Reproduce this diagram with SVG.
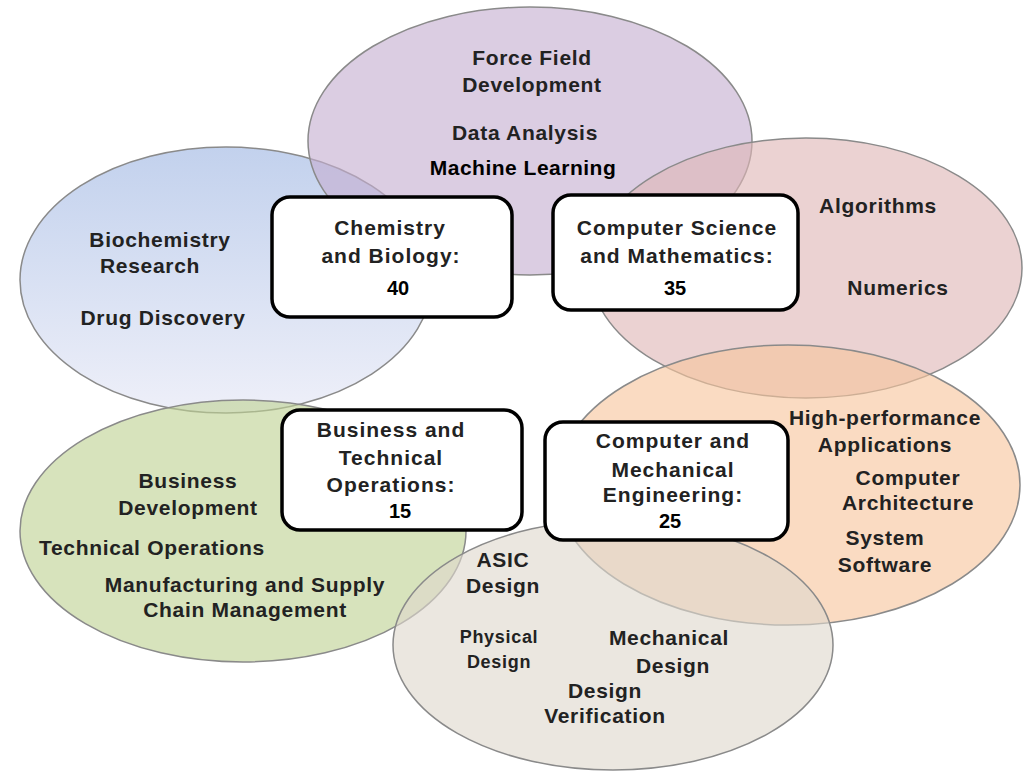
<svg xmlns="http://www.w3.org/2000/svg" width="1024" height="771" viewBox="0 0 1024 771">
<style>
.ell{stroke:#8a8a8a;stroke-width:1.5;fill-opacity:0.62}
.box{fill:#fff;stroke:#000;stroke-width:3.5}
.t{font-family:"Liberation Sans",Arial,sans-serif;font-weight:bold;font-size:21px;fill:#222;text-anchor:middle;letter-spacing:0.7px}
.b{font-family:"Liberation Sans",Arial,sans-serif;font-weight:bold;font-size:21px;fill:#222;text-anchor:middle;letter-spacing:1px}
.n{font-family:"Liberation Sans",Arial,sans-serif;font-weight:bold;font-size:20px;fill:#000;text-anchor:middle}
</style>
<defs>
<linearGradient id="gBlue" x1="0" y1="0" x2="0" y2="1">
<stop offset="0" stop-color="#9db5e2"/>
<stop offset="1" stop-color="#e4e6f5"/>
</linearGradient>
</defs>
<rect width="1024" height="771" fill="#fff"/>
<g id="ellipse-chem">
<ellipse class="ell" cx="226" cy="280" rx="206" ry="133" fill="url(#gBlue)"/>
</g>
<g id="ellipse-purple">
<ellipse class="ell" cx="530" cy="141" rx="222" ry="134" fill="#c5afd0"/>
</g>
<g id="ellipse-pink">
<ellipse class="ell" cx="806" cy="268" rx="216" ry="130" fill="#dfb7b7"/>
</g>
<g id="ellipse-orange">
<ellipse class="ell" cx="788" cy="485" rx="232" ry="140" fill="#f7c59d"/>
</g>
<g id="ellipse-green">
<ellipse class="ell" cx="243" cy="531" rx="223" ry="131" fill="#bed293"/>
</g>
<g id="ellipse-gray">
<ellipse class="ell" cx="613" cy="645" rx="220" ry="125" fill="#ded9cd"/>
</g>
<g id="connectors"></g>
<g id="labels-purple">
<text class="t" x="532" y="65">Force Field</text>
<text class="t" x="532" y="92">Development</text>
<text class="t" x="525" y="140">Data Analysis</text>
<text class="t" x="523" y="175" style="fill:#000;font-size:21px;letter-spacing:0.5px">Machine Learning</text>
</g>
<g id="labels-blue">
<text class="t" x="160" y="247">Biochemistry</text>
<text class="t" x="150" y="273">Research</text>
<text class="t" x="163" y="325">Drug Discovery</text>
</g>
<g id="labels-pink">
<text class="t" x="878" y="213">Algorithms</text>
<text class="t" x="898" y="295">Numerics</text>
</g>
<g id="labels-orange">
<text class="t" x="885" y="425">High-performance</text>
<text class="t" x="885" y="452">Applications</text>
<text class="t" x="908" y="485">Computer</text>
<text class="t" x="908" y="510">Architecture</text>
<text class="t" x="885" y="545">System</text>
<text class="t" x="885" y="572">Software</text>
</g>
<g id="labels-green">
<text class="t" x="188" y="488">Business</text>
<text class="t" x="188" y="515">Development</text>
<text class="t" x="152" y="555">Technical Operations</text>
<text class="t" x="245" y="592">Manufacturing and Supply</text>
<text class="t" x="245" y="617">Chain Management</text>
</g>
<g id="labels-gray">
<text class="t" x="503" y="567">ASIC</text>
<text class="t" x="503" y="593">Design</text>
<text class="t" x="499" y="643" style="font-size:18px">Physical</text>
<text class="t" x="499" y="668" style="font-size:18px">Design</text>
<text class="t" x="669" y="645">Mechanical</text>
<text class="t" x="673" y="673">Design</text>
<text class="t" x="605" y="698">Design</text>
<text class="t" x="605" y="723">Verification</text>
</g>
<g id="box-chem">
<rect class="box" x="272" y="197" width="240" height="120" rx="18"/>
<text class="b" x="390" y="235">Chemistry</text>
<text class="b" x="391" y="263">and Biology:</text>
<text class="n" x="398" y="295">40</text>
</g>
<g id="box-cs">
<rect class="box" x="553" y="195" width="245" height="115" rx="18"/>
<text class="b" x="677" y="235">Computer Science</text>
<text class="b" x="677" y="263">and Mathematics:</text>
<text class="n" x="675" y="295">35</text>
</g>
<g id="box-bto">
<rect class="box" x="282" y="410" width="240" height="120" rx="18"/>
<text class="b" x="391" y="437">Business and</text>
<text class="b" x="391" y="465">Technical</text>
<text class="b" x="391" y="492">Operations:</text>
<text class="n" x="400" y="518">15</text>
</g>
<g id="box-cme">
<rect class="box" x="545" y="422" width="243" height="118" rx="18"/>
<text class="b" x="673" y="448">Computer and</text>
<text class="b" x="673" y="477">Mechanical</text>
<text class="b" x="673" y="502">Engineering:</text>
<text class="n" x="670" y="528">25</text>
</g>
</svg>
